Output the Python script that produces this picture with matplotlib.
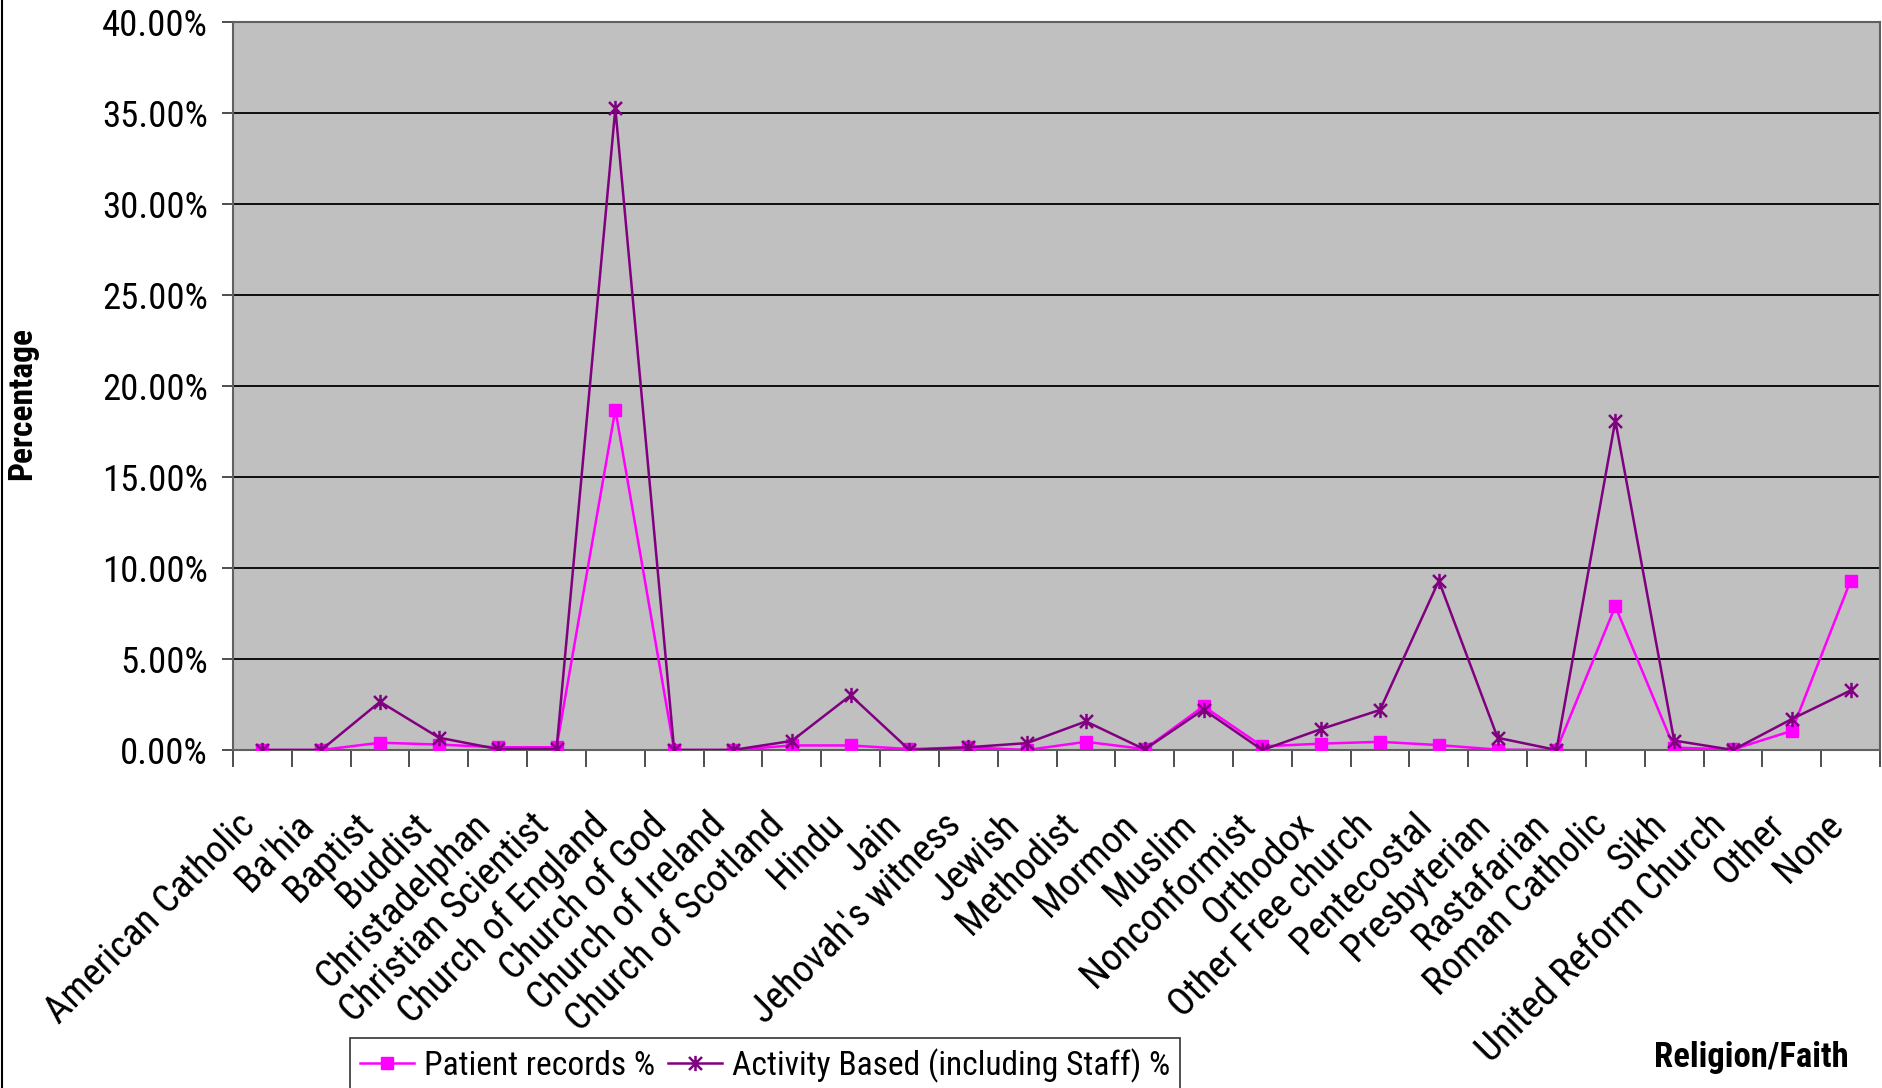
import matplotlib
matplotlib.use("Agg")
import matplotlib.pyplot as plt
from matplotlib import font_manager
from matplotlib.ticker import FuncFormatter, FixedLocator
from matplotlib.lines import Line2D
from matplotlib.path import Path
import matplotlib.transforms as mtransforms

categories = ["American Catholic", "Ba'hia", "Baptist", "Buddist", "Christadelphan",
              "Christian Scientist", "Church of England", "Church of God", "Church of Ireland",
              "Church of Scotland", "Hindu", "Jain", "Jehovah's witness", "Jewish", "Methodist",
              "Mormon", "Muslim", "Nonconformist", "Orthodox", "Other Free church", "Pentecostal",
              "Presbyterian", "Rastafarian", "Roman Catholic", "Sikh", "United Reform Church",
              "Other", "None"]

patient_records = [0.0, 0.0, 0.4, 0.3, 0.15, 0.15, 18.7, 0.0, 0.0, 0.25, 0.25, 0.05, 0.15,
                   0.0, 0.45, 0.05, 2.4, 0.2, 0.35, 0.45, 0.27, 0.02, 0.0, 7.9, 0.13, 0.03,
                   1.05, 9.3]
activity_based = [0.0, 0.0, 2.65, 0.68, 0.05, 0.05, 35.25, 0.0, 0.0, 0.5, 3.0, 0.0, 0.15,
                  0.38, 1.57, 0.03, 2.22, 0.0, 1.15, 2.2, 9.3, 0.67, 0.0, 18.1, 0.52, 0.0,
                  1.7, 3.27]

series_names = ["Patient records %", "Activity Based (including Staff) %"]

available = {f.name for f in font_manager.fontManager.ttflist}
FONT = "Liberation Sans"
for cand in ["Liberation Sans Narrow", "Arial Narrow", "Arimo Narrow", "Roboto Condensed",
             "Archivo Narrow", "PT Sans Narrow", "Asap Condensed"]:
    if cand in available:
        FONT = cand
        break
plt.rcParams['font.family'] = [FONT, 'DejaVu Sans']

fig = plt.figure(figsize=(18.82, 10.88), dpi=100)
fig.patch.set_facecolor("white")
renderer = fig.canvas.get_renderer()


def fit_size(text, target_px, weight="normal"):
    t = fig.text(0, 0, text, fontsize=20, fontweight=weight)
    w = t.get_window_extent(renderer=renderer).width
    t.remove()
    return 20 * target_px / w


ytick_size = fit_size("40.00%", 106)
xtick_size = fit_size("American Catholic", 280)
legend_size = fit_size("Patient records %", 230)
ylabel_size = fit_size("Percentage", 152, "bold")
xlabel_size = fit_size("Religion/Faith", 194, "bold")

# Excel-style asterisk: X plus a vertical bar
ast_path = Path([(0, -1), (0, 1), (-0.85, -0.85), (0.85, 0.85), (-0.85, 0.85), (0.85, -0.85)],
                [Path.MOVETO, Path.LINETO, Path.MOVETO, Path.LINETO, Path.MOVETO, Path.LINETO])

ax = fig.add_axes([233/1882, 1 - 750/1088, (1880 - 233)/1882, (750 - 22)/1088])
ax.set_facecolor("#C0C0C0")

x = list(range(len(categories)))
ax.plot(x, patient_records, color="#FF00FF", lw=1.8, marker="s", markersize=9,
        markeredgecolor="#FF00FF", markerfacecolor="#FF00FF", label=series_names[0], zorder=3)
ax.plot(x, activity_based, color="#800080", lw=1.8, marker=ast_path, markersize=11,
        markeredgewidth=1.8, markeredgecolor="#800080", markerfacecolor="none",
        label=series_names[1], zorder=4)

ax.set_xlim(-0.5, len(categories) - 0.5)
ax.set_ylim(0, 40)
ax.yaxis.set_major_locator(FixedLocator([0, 5, 10, 15, 20, 25, 30, 35, 40]))
ax.yaxis.set_major_formatter(FuncFormatter(lambda v, p: f"{v:.2f}%"))
ax.grid(axis="y", color="black", lw=1.3)
ax.set_axisbelow(True)

ax.set_xticks(x)
ax.set_xticklabels(categories, rotation=45, ha="right", va="top", rotation_mode="anchor",
                   fontsize=xtick_size)
ax.tick_params(axis="x", which="major", length=0, pad=22)
offset = mtransforms.ScaledTranslation(-0.26, -0.26, fig.dpi_scale_trans)
for lab in ax.get_xticklabels():
    lab.set_transform(lab.get_transform() + offset)
ax.set_xticks([i - 0.5 for i in range(len(categories) + 1)], minor=True)
ax.tick_params(axis="x", which="minor", length=12, width=1.3, color="#404040", direction="out")
ax.tick_params(axis="y", labelsize=ytick_size, length=8, width=1.3, color="#404040", pad=10)

for s in ["left", "bottom", "right", "top"]:
    ax.spines[s].set_color("#606060")
    ax.spines[s].set_linewidth(1.5)

fig.text(22/1882, 1 - 404/1088, "Percentage", rotation=90, ha="center", va="center",
         fontsize=ylabel_size, fontweight="bold")
fig.text(1849/1882, 1 - 1058/1088, "Religion/Faith", ha="right", va="center",
         fontsize=xlabel_size, fontweight="bold")

leg = fig.legend(loc="upper left", bbox_to_anchor=(350/1882, 1 - 1038/1088), ncol=2,
                 fontsize=legend_size, frameon=True, fancybox=False, edgecolor="black",
                 handlelength=1.6, handletextpad=0.3, columnspacing=0.4, borderpad=0.3,
                 borderaxespad=0)
leg.get_frame().set_linewidth(1.2)

fig.add_artist(Line2D([1.5/1882, 1.5/1882], [0, 1], transform=fig.transFigure,
                      color="black", lw=1.5))

fig.savefig("out.png", dpi=100)
